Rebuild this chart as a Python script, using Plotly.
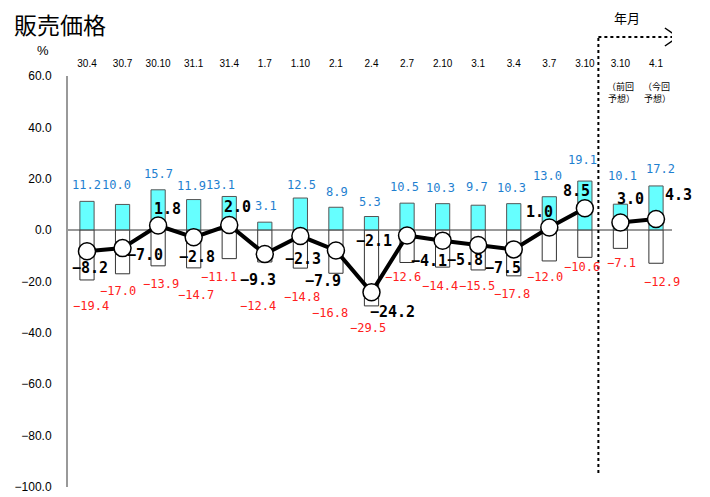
import plotly.graph_objects as go

# 販売価格 DI: 上昇 (cyan), 下降 (white), DI line
periods = ["30.4", "30.7", "30.10", "31.1", "31.4", "1.7", "1.10", "2.1", "2.4",
           "2.7", "2.10", "3.1", "3.4", "3.7", "3.10", "3.10", "4.1"]
up_share = [11.2, 10.0, 15.7, 11.9, 13.1, 3.1, 12.5, 8.9, 5.3,
            10.5, 10.3, 9.7, 10.3, 13.0, 19.1, 10.1, 17.2]
down_share = [-19.4, -17.0, -13.9, -14.7, -11.1, -12.4, -14.8, -16.8, -29.5,
              -12.6, -14.4, -15.5, -17.8, -12.0, -10.6, -7.1, -12.9]
di = [-8.2, -7.0, 1.8, -2.8, 2.0, -9.3, -2.3, -7.9, -24.2,
      -2.1, -4.1, -5.8, -7.5, 1.0, 8.5, 3.0, 4.3]
n_actual = 15  # last two are forecasts (前回予想 / 今回予想)

# label nudges in pixels (dx, dy up)
up_off = [(0, 16), (-6, 19), (0, 16), (-2, 14), (-9, 11), (1, 16), (1, 13), (1, 15), (-1, 15),
          (-3, 16), (-2, 16), (-1, 18), (-2, 16), (-2, 21), (-2, 21), (2, 28), (4, 17)]
down_off = [(4, -26), (-5, -17), (3, -18), (2, -27), (-10, -18), (-7, -44), (2, -29), (-6, -40), (-3, -22),
            (-4, -15), (-3, -19), (-1, -16), (-2, -18), (-4, -16), (-3, -10), (1, -15), (6, -19)]
di_off = [(3, -17), (22, -7), (9, 17), (3, -20), (8, 18), (-7, -26), (3, -23), (-13, -31), (21, -20),
          (-33, -5), (-14, -20), (-13, -15), (-11, -19), (-10, 16), (-8, 17), (10, 23), (22, 24)]

W, H = 710, 497
OFF = 8  # page body margin
L, R, T, B = 60, 46, 68, 18
pw, ph = W - L - R, H - T - B


# screen pixel -> paper coords
def fx(p):
    return (p - OFF - L) / pw


def fy(p):
    return (H - B - (p - OFF)) / ph


def fmt(v):
    return f"{v:.1f}".replace("-", "−")


xs = list(range(len(periods)))

fig = go.Figure()
fig.add_trace(go.Bar(x=xs, y=up_share, width=0.4, marker=dict(color="#66FFFF", line=dict(color="#555555", width=1))))
fig.add_trace(go.Bar(x=xs, y=down_share, width=0.4, marker=dict(color="white", line=dict(color="#333333", width=1))))

mk = dict(size=17, color="white", line=dict(color="black", width=1.5))
fig.add_trace(go.Scatter(x=xs[:n_actual], y=di[:n_actual], mode="lines+markers",
                         line=dict(color="black", width=4), marker=mk))
fig.add_trace(go.Scatter(x=xs[n_actual:], y=di[n_actual:], mode="lines+markers",
                         line=dict(color="black", width=4), marker=mk))

ann = []
lab_font = "DejaVu Sans Mono"
c = dict(showarrow=False, xanchor="center", yanchor="middle")
for i in xs:
    dx, dy = up_off[i]
    ann.append(dict(x=i, y=up_share[i], text=fmt(up_share[i]), xshift=dx, yshift=dy, **c,
                    font=dict(family=lab_font, size=12, color="#1F7FD0")))
    dx, dy = down_off[i]
    ann.append(dict(x=i, y=down_share[i], text=fmt(down_share[i]), xshift=dx, yshift=dy, **c,
                    font=dict(family=lab_font, size=12, color="#FF2020")))
    dx, dy = di_off[i]
    ann.append(dict(x=i, y=di[i], text="<b>" + fmt(di[i]) + "</b>", xshift=dx, yshift=dy, **c,
                    font=dict(family=lab_font, size=15, color="black")))

cjk = "Noto Sans CJK JP"
ann += [
    dict(xref="paper", yref="paper", x=fx(12), y=fy(24), text="販売価格", showarrow=False,
         xanchor="left", yanchor="middle", font=dict(family=cjk, size=23, color="black")),
    dict(xref="paper", yref="paper", x=fx(43), y=fy(50), text="%", **c,
         font=dict(family="Liberation Sans", size=13, color="black")),
    dict(xref="paper", yref="paper", x=fx(627), y=fy(18), text="年月", **c,
         font=dict(family=cjk, size=13, color="black")),
    dict(x=15, xref="x", yref="paper", y=fy(93), text="（前回<br> 予想）", **c,
         font=dict(family=cjk, size=9, color="black")),
    dict(x=16, xref="x", yref="paper", y=fy(93), text="（今回<br> 予想）", **c,
         font=dict(family=cjk, size=9, color="black")),
]

xsep = 14.38
shapes = [
    dict(type="line", xref="x", yref="paper", x0=xsep, x1=xsep, y0=fy(473), y1=fy(37),
         line=dict(color="black", width=2, dash="dot")),
    dict(type="line", xref="x", yref="paper", x0=xsep, x1=16.58, y0=fy(37), y1=fy(37),
         line=dict(color="black", width=2, dash="dot")),
    dict(type="path", xref="x", yref="paper",
         path=f"M 16.25,{fy(28)} L 16.62,{fy(37)} L 16.25,{fy(46)}",
         line=dict(color="black", width=1.5)),
]

fig.update_layout(
    width=W, height=H,
    margin=dict(l=L, r=R, t=T, b=B, autoexpand=False),
    plot_bgcolor="white", paper_bgcolor="white",
    barmode="relative", showlegend=False,
    annotations=ann, shapes=shapes,
    xaxis=dict(range=[-0.534, 16.45], side="top", tickvals=xs, ticktext=periods, automargin=False,
               tickfont=dict(family="Liberation Sans", size=10, color="black"),
               showgrid=False, zeroline=False, showline=False, ticks="", ticklabelstandoff=6),
    yaxis=dict(range=[-100, 60], dtick=20, tickformat=".1f", showgrid=False, automargin=False,
               tickfont=dict(family="Liberation Sans", size=12, color="black"),
               showline=True, linecolor="#999999", linewidth=2,
               zeroline=True, zerolinecolor="#999999", zerolinewidth=2,
               ticks="", ticklabelstandoff=12),
)

fig.write_html("out.html")
